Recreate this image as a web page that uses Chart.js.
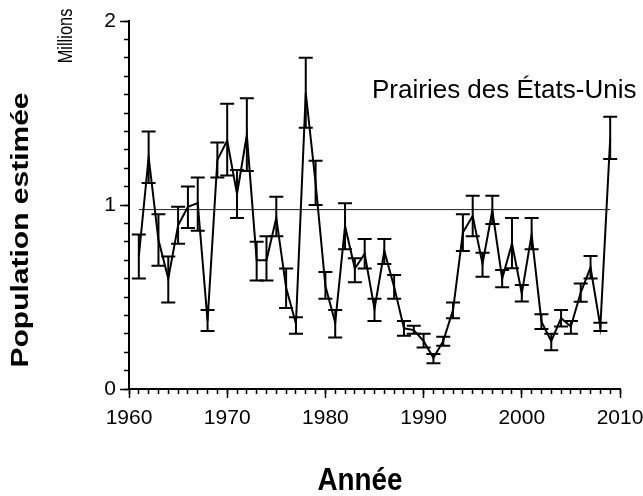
<!DOCTYPE html>
<html>
<head>
<meta charset="utf-8">
<script src="https://cdn.jsdelivr.net/npm/chart.js@4.4.1/dist/chart.umd.min.js"></script>
<style>
  html, body { margin: 0; padding: 0; background: #fff; }
  #wrap { position: relative; width: 643px; height: 496px; }
</style>
</head>
<body>
<div id="wrap"><canvas id="chartPop"></canvas></div>
<script>
// Population estimée (millions), Prairies des États-Unis
const years = [1961, 1962, 1963, 1964, 1965, 1966, 1967, 1968, 1969, 1970,
               1971, 1972, 1973, 1974, 1975, 1976, 1977, 1978, 1979, 1980,
               1981, 1982, 1983, 1984, 1985, 1986, 1987, 1988, 1989, 1990,
               1991, 1992, 1993, 1994, 1995, 1996, 1997, 1998, 1999, 2000,
               2001, 2002, 2003, 2004, 2005, 2006, 2007, 2008, 2009];
const estimates = [0.72, 1.26, 0.81, 0.60, 0.89, 0.99, 1.01, 0.37, 1.245, 1.35,
                   1.06, 1.38, 0.70, 0.70, 0.93, 0.55, 0.355, 1.61, 1.12, 0.56,
                   0.36, 0.885, 0.655, 0.735, 0.435, 0.75, 0.555, 0.33, 0.32, 0.26,
                   0.17, 0.26, 0.43, 0.85, 0.94, 0.68, 0.97, 0.60, 0.79, 0.52,
                   0.84, 0.366, 0.26, 0.385, 0.34, 0.524, 0.66, 0.34, 1.36];
const lowerBound = [0.60, 1.12, 0.67, 0.47, 0.79, 0.875, 0.86, 0.315, 1.15, 1.16,
                    0.93, 1.185, 0.59, 0.59, 0.83, 0.44, 0.30, 1.42, 1.00, 0.49,
                    0.28, 0.76, 0.58, 0.655, 0.37, 0.68, 0.49, 0.29, 0.30, 0.225,
                    0.14, 0.235, 0.384, 0.75, 0.83, 0.61, 0.897, 0.553, 0.656, 0.475,
                    0.76, 0.326, 0.21, 0.34, 0.30, 0.474, 0.60, 0.315, 1.25];
const upperBound = [0.84, 1.40, 0.95, 0.72, 0.99, 1.10, 1.15, 0.43, 1.34, 1.55,
                    1.19, 1.58, 0.80, 0.83, 1.045, 0.655, 0.39, 1.80, 1.24, 0.636,
                    0.43, 1.01, 0.71, 0.815, 0.49, 0.815, 0.62, 0.37, 0.344, 0.30,
                    0.19, 0.284, 0.47, 0.95, 1.05, 0.74, 1.05, 0.647, 0.93, 0.565,
                    0.93, 0.406, 0.30, 0.43, 0.37, 0.574, 0.723, 0.36, 1.48];
const meanLevel = 0.975;
const meanYears = [1961, 2009];

const tickFont = { family: "'Liberation Sans', Arial, sans-serif", size: 21 };

// error bars drawn through the chart's own scales
const errorBars = {
    id: 'errorBars',
    afterDatasetsDraw(chart) {
        const { ctx, scales: { x, y } } = chart;
        ctx.save();
        ctx.strokeStyle = '#000';
        ctx.lineWidth = 2;
        years.forEach((yr, i) => {
            const px = x.getPixelForValue(yr);
            const top = y.getPixelForValue(upperBound[i]);
            const bot = y.getPixelForValue(lowerBound[i]);
            ctx.beginPath();
            ctx.moveTo(px, top); ctx.lineTo(px, bot);
            ctx.moveTo(px - 7, top); ctx.lineTo(px + 7, top);
            ctx.moveTo(px - 7, bot); ctx.lineTo(px + 7, bot);
            ctx.stroke();
        });
        ctx.restore();
    }
};

// axis titles and annotations (text condensed/stretched like the original)
const labels = {
    id: 'labels',
    afterDraw(chart) {
        const ctx = chart.ctx;
        ctx.save();
        ctx.fillStyle = '#000';
        ctx.textAlign = 'center';
        ctx.textBaseline = 'alphabetic';

        ctx.save();
        ctx.translate(33, 230);
        ctx.rotate(-Math.PI / 2);
        ctx.scale(1.25, 1);
        ctx.font = "bold 24px 'Liberation Sans', Arial, sans-serif";
        ctx.fillText('Population estimée', 0, -5);
        ctx.restore();

        ctx.save();
        ctx.translate(72, 36);
        ctx.rotate(-Math.PI / 2);
        ctx.scale(0.82, 1);
        ctx.font = "20px 'Liberation Sans', Arial, sans-serif";
        ctx.fillText('Millions', 0, 0);
        ctx.restore();

        ctx.save();
        ctx.translate(360, 490);
        ctx.scale(0.87, 1);
        ctx.font = "bold 32px 'Liberation Sans', Arial, sans-serif";
        ctx.fillText('Année', 0, 0);
        ctx.restore();

        ctx.font = "26px 'Liberation Sans', Arial, sans-serif";
        ctx.textAlign = 'left';
        ctx.fillText('Prairies des États-Unis', 372, 97.5);
        ctx.restore();
    }
};

const noPad = s => { s.paddingLeft = 0; s.paddingRight = 0; s.paddingTop = 0; s.paddingBottom = 0; };

new Chart(document.getElementById('chartPop'), {
    type: 'line',
    data: {
        datasets: [{
            data: years.map((yr, i) => ({ x: yr, y: estimates[i] })),
            borderColor: '#000',
            borderWidth: 2,
            pointRadius: 0,
            tension: 0,
            fill: false
        }, {
            data: meanYears.map(yr => ({ x: yr, y: meanLevel })),
            borderColor: '#222',
            borderWidth: 1,
            pointRadius: 0,
            fill: false
        }]
    },
    options: {
        responsive: true,
        maintainAspectRatio: false,
        animation: false,
        devicePixelRatio: 1,
        layout: { padding: { left: 0, right: 23, top: 21, bottom: 0 } },
        plugins: { legend: { display: false }, tooltip: { enabled: false } },
        scales: {
            x: {
                type: 'linear', position: 'bottom', min: 1960, max: 2010, weight: 0,
                afterFit: s => { s.height = 0; noPad(s); },
                ticks: { stepSize: 1, display: false, autoSkip: false, maxTicksLimit: 1000 },
                grid: { drawOnChartArea: false, tickLength: 5, tickColor: '#000', tickWidth: 1.5 },
                border: { display: true, color: '#000', width: 2 }
            },
            xMajor: {
                type: 'linear', position: 'bottom', min: 1960, max: 2010, weight: 1,
                afterFit: s => { s.height = 107; noPad(s); },
                ticks: { stepSize: 10, color: '#000', font: tickFont, padding: 8, maxRotation: 0, autoSkip: false,
                         callback: v => String(v) },
                grid: { drawOnChartArea: false, tickLength: 9, tickColor: '#000', tickWidth: 1.5 },
                border: { display: false }
            },
            y: {
                type: 'linear', position: 'left', min: 0, max: 2, weight: 0,
                afterFit: s => { s.width = 0; noPad(s); },
                ticks: { stepSize: 0.1, display: false, autoSkip: false, maxTicksLimit: 1000 },
                grid: { drawOnChartArea: false, tickLength: 5, tickColor: '#000', tickWidth: 1.5 },
                border: { display: true, color: '#000', width: 2 }
            },
            yMajor: {
                type: 'linear', position: 'left', min: 0, max: 2, weight: 1,
                afterFit: s => { s.width = 129; noPad(s); },
                ticks: { stepSize: 1, color: '#000', font: tickFont, padding: 4, autoSkip: false,
                         callback: v => String(v) },
                grid: { drawOnChartArea: false, tickLength: 9, tickColor: '#000', tickWidth: 1.5 },
                border: { display: false }
            }
        }
    },
    plugins: [errorBars, labels]
});
</script>
</body>
</html>
